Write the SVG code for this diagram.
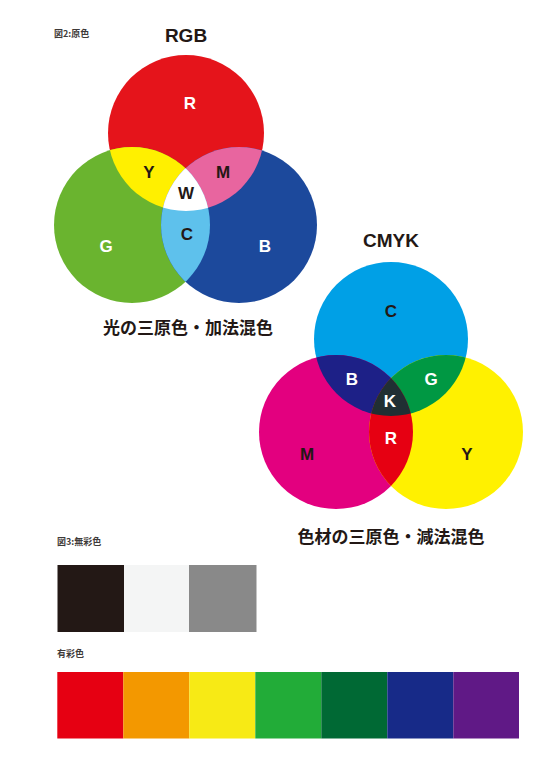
<svg xmlns="http://www.w3.org/2000/svg" width="545" height="764" viewBox="0 0 545 764">
<style>
.lbl{font-family:"Liberation Sans",Arial,sans-serif;font-weight:700;font-size:17px;text-anchor:middle}
.ttl{font-family:"Liberation Sans",Arial,sans-serif;font-weight:700;font-size:19px;text-anchor:middle;fill:#231815}
.jp{font-family:"Noto Sans CJK JP",sans-serif;font-weight:700;font-size:17px;text-anchor:middle;fill:#231815}
.sm{font-family:"Noto Sans CJK JP",sans-serif;font-weight:700;font-size:9px;fill:#3e3a39}
.dk{fill:#231815}
.wt{fill:#ffffff}
</style>
<defs>
<clipPath id="cR"><circle cx="186" cy="133" r="78"/></clipPath>
<clipPath id="cG"><circle cx="132" cy="225" r="78"/></clipPath>
<clipPath id="cC"><circle cx="391" cy="339" r="77"/></clipPath>
<clipPath id="cM"><circle cx="336" cy="432" r="77"/></clipPath>
</defs>
<rect width="545" height="764" fill="#ffffff"/>
<text class="sm" x="54" y="37">図2:原色</text>

<g id="rgb">
<text class="ttl" x="186" y="42">RGB</text>
<circle cx="186" cy="133" r="78" fill="#e5141b"/>
<circle cx="132" cy="225" r="78" fill="#6ab42f"/>
<circle cx="239" cy="225" r="78" fill="#1c499c"/>
<g clip-path="url(#cR)"><circle cx="132" cy="225" r="78" fill="#fff000"/><circle cx="239" cy="225" r="78" fill="#e8659f"/></g>
<g clip-path="url(#cG)"><circle cx="239" cy="225" r="78" fill="#5ec1ec"/></g>
<g clip-path="url(#cR)"><g clip-path="url(#cG)"><circle cx="239" cy="225" r="78" fill="#ffffff"/></g></g>
<text class="lbl wt" x="190" y="109">R</text>
<text class="lbl dk" x="149" y="178">Y</text>
<text class="lbl dk" x="223" y="178">M</text>
<text class="lbl dk" x="186" y="199">W</text>
<text class="lbl dk" x="187" y="240">C</text>
<text class="lbl wt" x="106" y="252">G</text>
<text class="lbl wt" x="265" y="252">B</text>
<text class="jp" x="188" y="334">光の三原色・加法混色</text>
</g>

<g id="cmyk">
<text class="ttl" x="391" y="247">CMYK</text>
<circle cx="391" cy="339" r="77" fill="#00a0e6"/>
<circle cx="336" cy="432" r="77" fill="#e3007f"/>
<circle cx="446" cy="432" r="77" fill="#fff100"/>
<g clip-path="url(#cC)"><circle cx="336" cy="432" r="77" fill="#1d2087"/><circle cx="446" cy="432" r="77" fill="#009843"/></g>
<g clip-path="url(#cM)"><circle cx="446" cy="432" r="77" fill="#e60012"/></g>
<g clip-path="url(#cC)"><g clip-path="url(#cM)"><circle cx="446" cy="432" r="77" fill="#202f33"/></g></g>
<text class="lbl dk" x="391" y="317">C</text>
<text class="lbl wt" x="352" y="385">B</text>
<text class="lbl wt" x="431" y="385">G</text>
<text class="lbl wt" x="390" y="407">K</text>
<text class="lbl wt" x="391" y="444">R</text>
<text class="lbl dk" x="307" y="460">M</text>
<text class="lbl dk" x="467" y="460">Y</text>
<text class="jp" x="391" y="543">色材の三原色・減法混色</text>
</g>

<g id="achromatic">
<text class="sm" x="57" y="545">図3:無彩色</text>
<rect x="57.5" y="565" width="66.5" height="67" fill="#231815"/>
<rect x="124" y="565" width="65" height="67" fill="#f4f5f5"/>
<rect x="189" y="565" width="67.5" height="67" fill="#898989"/>
</g>

<g id="chromatic">
<text class="sm" x="57" y="657">有彩色</text>
<rect x="57.3" y="672" width="66" height="66.5" fill="#e60012"/>
<rect x="123.3" y="672" width="66" height="66.5" fill="#f39800"/>
<rect x="189.3" y="672" width="66" height="66.5" fill="#f7ea15"/>
<rect x="255.3" y="672" width="66" height="66.5" fill="#22ac38"/>
<rect x="321.3" y="672" width="66" height="66.5" fill="#006934"/>
<rect x="387.3" y="672" width="66" height="66.5" fill="#172a88"/>
<rect x="453.3" y="672" width="65.7" height="66.5" fill="#601986"/>
</g>
</svg>
